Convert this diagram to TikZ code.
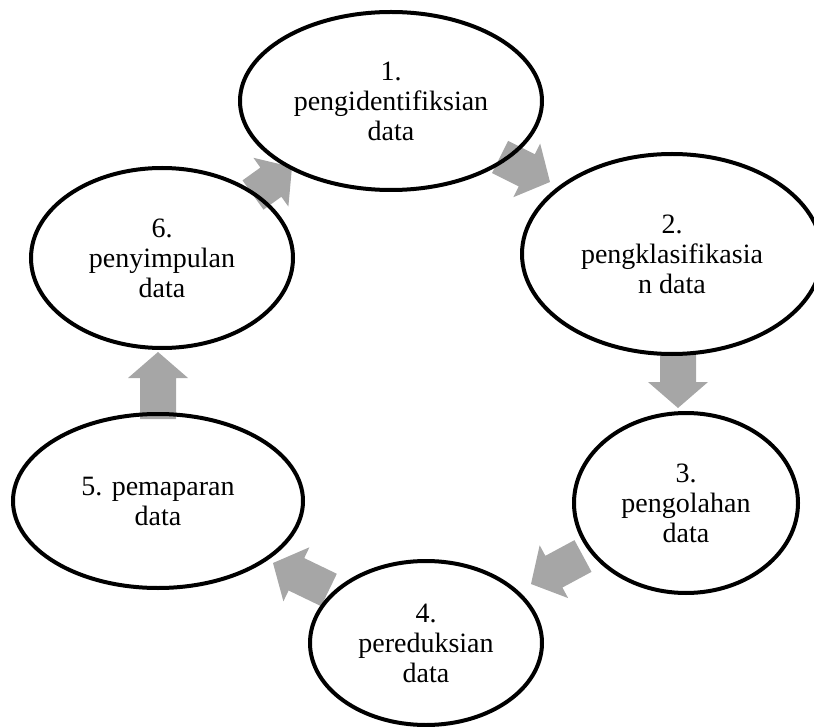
\documentclass[tikz,border=0pt]{standalone}
\usepackage{fontspec}
\setmainfont{Liberation Serif}
\usetikzlibrary{calc,backgrounds,shapes.geometric}
\definecolor{arrowgray}{HTML}{A6A6A6}
\tikzset{
  stage/.style={ellipse, draw=black, line width=4pt, fill=none, inner sep=0pt,
    align=center, font=\fontsize{28}{30}\selectfont},
  blockfill/.style={fill=arrowgray}
}
\newcommand\blockarrow[2]{%
  \fill[blockfill] ($(#1)!18pt!90:(#2)$) -- ($(#2)!26pt!(#1)!18pt!90:(#2)$)
    -- ($(#2)!26pt!(#1)!30pt!90:(#2)$) -- (#2)
    -- ($(#2)!26pt!(#1)!30pt!-90:(#2)$) -- ($(#2)!26pt!(#1)!18pt!-90:(#2)$)
    -- ($(#1)!18pt!-90:(#2)$) -- cycle;}
\begin{document}
\begin{tikzpicture}[x=1pt,y=-1pt]
\useasboundingbox (0,0) rectangle (814,727);
\node[stage, minimum width=302pt, minimum height=178pt] (e1) at (391,101) {1.\\pengidentifiksian\\data};
\node[stage, minimum width=300pt, minimum height=200pt] (e2) at (672,254) {2.\\pengklasifikasia\\n data};
\node[stage, minimum width=224pt, minimum height=180pt] (e3) at (686,503) {3.\\pengolahan\\data};
\node[stage, minimum width=232pt, minimum height=164pt] (e4) at (426,643) {4.\\pereduksian\\data};
\node[stage, minimum width=290pt, minimum height=174pt] (e5) at (158,501) {5. pemaparan\\data};
\node[stage, minimum width=262pt, minimum height=180pt] (e6) at (162,258) {6.\\penyimpulan\\data};
\begin{pgfonlayer}{background}
\coordinate (a12t) at (500,157); \coordinate (a12h) at (550,182);
\coordinate (a23t) at (678,352); \coordinate (a23h) at (678,408);
\coordinate (a34t) at (583,556); \coordinate (a34h) at (531,584);
\coordinate (a45t) at (329,590); \coordinate (a45h) at (273,563);
\coordinate (a56t) at (158,419); \coordinate (a56h) at (158,352);
\coordinate (a61t) at (253,195); \coordinate (a61h) at (292,167);
\blockarrow{a12t}{a12h}
\blockarrow{a23t}{a23h}
\blockarrow{a34t}{a34h}
\blockarrow{a45t}{a45h}
\blockarrow{a56t}{a56h}
\blockarrow{a61t}{a61h}
\end{pgfonlayer}
\end{tikzpicture}
\end{document}
